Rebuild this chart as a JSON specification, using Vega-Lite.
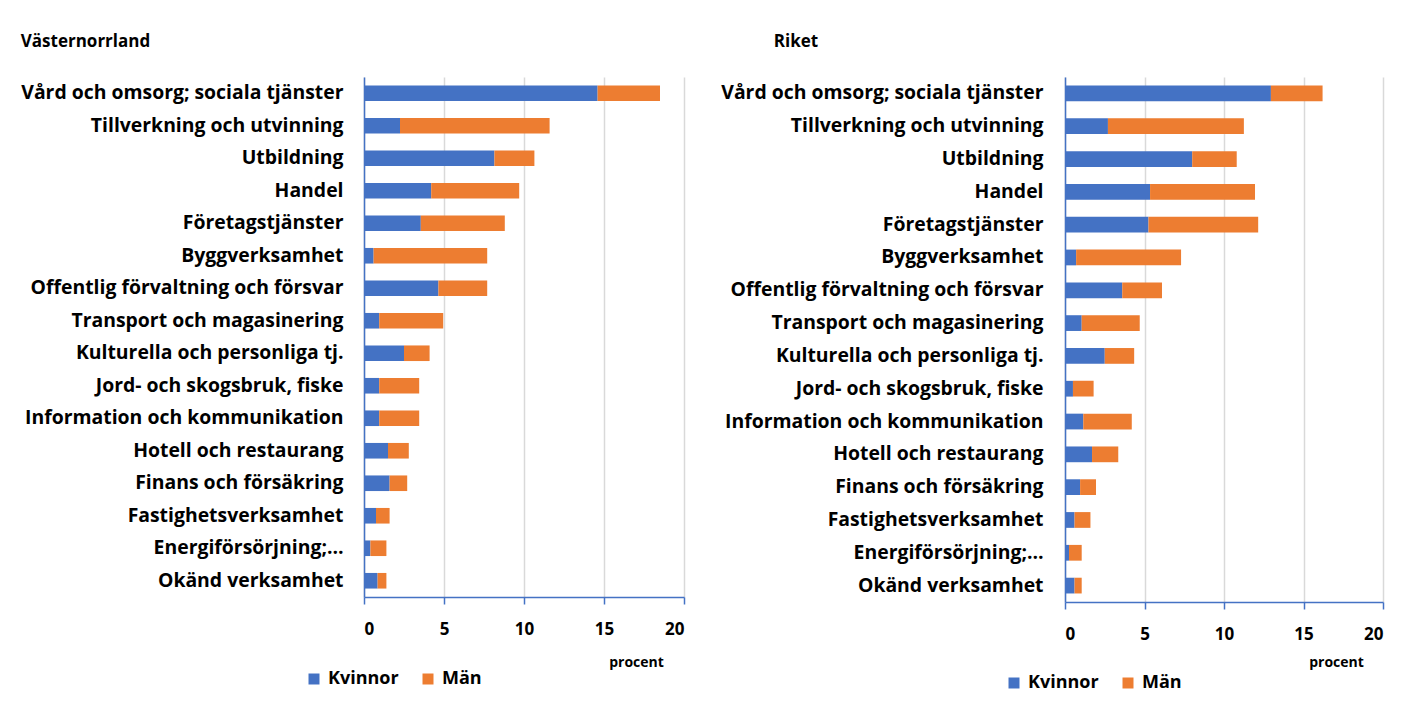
{
  "$schema": "https://vega.github.io/schema/vega-lite/v6.json",
  "background": "white",
  "padding": {"left": 20, "top": 33, "right": 10, "bottom": 0},
  "spacing": 35,
  "config": {
    "font": "Open Sans",
    "view": {"stroke": null},
    "legend": {"padding": 0}
  },
  "datasets": {
    "d": [
      {"region": "Västernorrland", "bransch": "Vård och omsorg; sociala tjänster", "kon": "Kvinnor", "procent": 14.6},
      {"region": "Västernorrland", "bransch": "Vård och omsorg; sociala tjänster", "kon": "Män", "procent": 3.9},
      {"region": "Västernorrland", "bransch": "Tillverkning och utvinning", "kon": "Kvinnor", "procent": 2.25},
      {"region": "Västernorrland", "bransch": "Tillverkning och utvinning", "kon": "Män", "procent": 9.35},
      {"region": "Västernorrland", "bransch": "Utbildning ", "kon": "Kvinnor", "procent": 8.15},
      {"region": "Västernorrland", "bransch": "Utbildning ", "kon": "Män", "procent": 2.5},
      {"region": "Västernorrland", "bransch": "Handel", "kon": "Kvinnor", "procent": 4.2},
      {"region": "Västernorrland", "bransch": "Handel", "kon": "Män", "procent": 5.5},
      {"region": "Västernorrland", "bransch": "Företagstjänster", "kon": "Kvinnor", "procent": 3.55},
      {"region": "Västernorrland", "bransch": "Företagstjänster", "kon": "Män", "procent": 5.25},
      {"region": "Västernorrland", "bransch": "Byggverksamhet", "kon": "Kvinnor", "procent": 0.6},
      {"region": "Västernorrland", "bransch": "Byggverksamhet", "kon": "Män", "procent": 7.1},
      {"region": "Västernorrland", "bransch": "Offentlig förvaltning och försvar", "kon": "Kvinnor", "procent": 4.65},
      {"region": "Västernorrland", "bransch": "Offentlig förvaltning och försvar", "kon": "Män", "procent": 3.05},
      {"region": "Västernorrland", "bransch": "Transport och magasinering", "kon": "Kvinnor", "procent": 0.95},
      {"region": "Västernorrland", "bransch": "Transport och magasinering", "kon": "Män", "procent": 4.0},
      {"region": "Västernorrland", "bransch": "Kulturella och personliga tj.", "kon": "Kvinnor", "procent": 2.5},
      {"region": "Västernorrland", "bransch": "Kulturella och personliga tj.", "kon": "Män", "procent": 1.6},
      {"region": "Västernorrland", "bransch": "Jord- och skogsbruk, fiske", "kon": "Kvinnor", "procent": 0.95},
      {"region": "Västernorrland", "bransch": "Jord- och skogsbruk, fiske", "kon": "Män", "procent": 2.5},
      {"region": "Västernorrland", "bransch": "Information och kommunikation", "kon": "Kvinnor", "procent": 0.95},
      {"region": "Västernorrland", "bransch": "Information och kommunikation", "kon": "Män", "procent": 2.5},
      {"region": "Västernorrland", "bransch": "Hotell och restaurang", "kon": "Kvinnor", "procent": 1.5},
      {"region": "Västernorrland", "bransch": "Hotell och restaurang", "kon": "Män", "procent": 1.3},
      {"region": "Västernorrland", "bransch": "Finans och försäkring", "kon": "Kvinnor", "procent": 1.6},
      {"region": "Västernorrland", "bransch": "Finans och försäkring", "kon": "Män", "procent": 1.1},
      {"region": "Västernorrland", "bransch": "Fastighetsverksamhet", "kon": "Kvinnor", "procent": 0.75},
      {"region": "Västernorrland", "bransch": "Fastighetsverksamhet", "kon": "Män", "procent": 0.85},
      {"region": "Västernorrland", "bransch": "Energiförsörjning;…", "kon": "Kvinnor", "procent": 0.4},
      {"region": "Västernorrland", "bransch": "Energiförsörjning;…", "kon": "Män", "procent": 1.0},
      {"region": "Västernorrland", "bransch": "Okänd verksamhet", "kon": "Kvinnor", "procent": 0.85},
      {"region": "Västernorrland", "bransch": "Okänd verksamhet", "kon": "Män", "procent": 0.55},
      {"region": "Riket", "bransch": "Vård och omsorg; sociala tjänster", "kon": "Kvinnor", "procent": 12.95},
      {"region": "Riket", "bransch": "Vård och omsorg; sociala tjänster", "kon": "Män", "procent": 3.25},
      {"region": "Riket", "bransch": "Tillverkning och utvinning", "kon": "Kvinnor", "procent": 2.7},
      {"region": "Riket", "bransch": "Tillverkning och utvinning", "kon": "Män", "procent": 8.55},
      {"region": "Riket", "bransch": "Utbildning ", "kon": "Kvinnor", "procent": 8.0},
      {"region": "Riket", "bransch": "Utbildning ", "kon": "Män", "procent": 2.8},
      {"region": "Riket", "bransch": "Handel", "kon": "Kvinnor", "procent": 5.35},
      {"region": "Riket", "bransch": "Handel", "kon": "Män", "procent": 6.6},
      {"region": "Riket", "bransch": "Företagstjänster", "kon": "Kvinnor", "procent": 5.25},
      {"region": "Riket", "bransch": "Företagstjänster", "kon": "Män", "procent": 6.9},
      {"region": "Riket", "bransch": "Byggverksamhet", "kon": "Kvinnor", "procent": 0.7},
      {"region": "Riket", "bransch": "Byggverksamhet", "kon": "Män", "procent": 6.6},
      {"region": "Riket", "bransch": "Offentlig förvaltning och försvar", "kon": "Kvinnor", "procent": 3.6},
      {"region": "Riket", "bransch": "Offentlig förvaltning och försvar", "kon": "Män", "procent": 2.5},
      {"region": "Riket", "bransch": "Transport och magasinering", "kon": "Kvinnor", "procent": 1.05},
      {"region": "Riket", "bransch": "Transport och magasinering", "kon": "Män", "procent": 3.65},
      {"region": "Riket", "bransch": "Kulturella och personliga tj.", "kon": "Kvinnor", "procent": 2.5},
      {"region": "Riket", "bransch": "Kulturella och personliga tj.", "kon": "Män", "procent": 1.85},
      {"region": "Riket", "bransch": "Jord- och skogsbruk, fiske", "kon": "Kvinnor", "procent": 0.5},
      {"region": "Riket", "bransch": "Jord- och skogsbruk, fiske", "kon": "Män", "procent": 1.3},
      {"region": "Riket", "bransch": "Information och kommunikation", "kon": "Kvinnor", "procent": 1.15},
      {"region": "Riket", "bransch": "Information och kommunikation", "kon": "Män", "procent": 3.05},
      {"region": "Riket", "bransch": "Hotell och restaurang", "kon": "Kvinnor", "procent": 1.7},
      {"region": "Riket", "bransch": "Hotell och restaurang", "kon": "Män", "procent": 1.65},
      {"region": "Riket", "bransch": "Finans och försäkring", "kon": "Kvinnor", "procent": 0.95},
      {"region": "Riket", "bransch": "Finans och försäkring", "kon": "Män", "procent": 1.0},
      {"region": "Riket", "bransch": "Fastighetsverksamhet", "kon": "Kvinnor", "procent": 0.6},
      {"region": "Riket", "bransch": "Fastighetsverksamhet", "kon": "Män", "procent": 1.0},
      {"region": "Riket", "bransch": "Energiförsörjning;…", "kon": "Kvinnor", "procent": 0.25},
      {"region": "Riket", "bransch": "Energiförsörjning;…", "kon": "Män", "procent": 0.8},
      {"region": "Riket", "bransch": "Okänd verksamhet", "kon": "Kvinnor", "procent": 0.6},
      {"region": "Riket", "bransch": "Okänd verksamhet", "kon": "Män", "procent": 0.45}
    ]
  },
  "resolve": {"scale": {"color": "independent"}},
  "hconcat": [
    {
      "width": 320,
      "height": 520,
      "title": {"text": "Västernorrland", "anchor": "start", "frame": "bounds", "dx": 0, "fontSize": 17, "fontWeight": "bold", "font": "Open Sans", "color": "#000000", "baseline": "middle", "offset": 18},
      "data": {"name": "d"},
      "transform": [{"filter": "datum.region === 'Västernorrland'"}],
      "mark": {"type": "bar"},
      "encoding": {
        "y": {
          "field": "bransch", "type": "nominal",
          "sort": ["Vård och omsorg; sociala tjänster", "Tillverkning och utvinning", "Utbildning ", "Handel", "Företagstjänster", "Byggverksamhet", "Offentlig förvaltning och försvar", "Transport och magasinering", "Kulturella och personliga tj.", "Jord- och skogsbruk, fiske", "Information och kommunikation", "Hotell och restaurang", "Finans och försäkring", "Fastighetsverksamhet", "Energiförsörjning;…", "Okänd verksamhet"],
          "scale": {"paddingInner": 0.52, "paddingOuter": 0.26},
          "axis": {"title": null, "labelFontSize": 19.4, "labelFontWeight": "bold", "labelColor": "#000000", "labelPadding": 21, "ticks": false, "domainColor": "#4472C4", "domainWidth": 1.5, "grid": false, "labelLimit": 400}
        },
        "x": {
          "field": "procent", "type": "quantitative", "stack": "zero",
          "scale": {"domain": [0, 20]},
          "axis": {"values": [0, 5, 10, 15, 20], "title": "procent", "titleFontSize": 14, "titleFontWeight": "bold", "titleColor": "#000000", "titleX": 272, "titleY": 65, "titleAlign": "center", "titleBaseline": "middle", "labelFontSize": 17, "labelFontWeight": "bold", "labelColor": "#000000", "labelPadding": 17, "tickSize": 7, "tickColor": "#4472C4", "tickWidth": 1.5, "domainColor": "#4472C4", "domainWidth": 1.5, "gridColor": "#D9D9D9", "gridWidth": 1.5}
        },
        "color": {
          "field": "kon", "type": "nominal",
          "scale": {"domain": ["Kvinnor", "Män"], "range": ["#4472C4", "#ED7D31"]},
          "legend": {"title": null, "orient": "none", "legendX": -59, "legendY": 593, "direction": "horizontal", "columns": 2, "columnPadding": 20, "symbolType": "square", "symbolSize": 121, "symbolStrokeWidth": 0, "labelFontSize": 18, "labelFontWeight": "bold", "labelColor": "#000000", "labelOffset": 5}
        }
      }
    },
    {
      "width": 318,
      "height": 525,
      "title": {"text": "Riket", "anchor": "start", "frame": "bounds", "dx": 53, "fontSize": 17, "fontWeight": "bold", "font": "Open Sans", "color": "#000000", "baseline": "middle", "offset": 18},
      "data": {"name": "d"},
      "transform": [{"filter": "datum.region === 'Riket'"}],
      "mark": {"type": "bar"},
      "encoding": {
        "y": {
          "field": "bransch", "type": "nominal",
          "sort": ["Vård och omsorg; sociala tjänster", "Tillverkning och utvinning", "Utbildning ", "Handel", "Företagstjänster", "Byggverksamhet", "Offentlig förvaltning och försvar", "Transport och magasinering", "Kulturella och personliga tj.", "Jord- och skogsbruk, fiske", "Information och kommunikation", "Hotell och restaurang", "Finans och försäkring", "Fastighetsverksamhet", "Energiförsörjning;…", "Okänd verksamhet"],
          "scale": {"paddingInner": 0.52, "paddingOuter": 0.26},
          "axis": {"title": null, "labelFontSize": 19.4, "labelFontWeight": "bold", "labelColor": "#000000", "labelPadding": 22, "ticks": false, "domainColor": "#4472C4", "domainWidth": 1.5, "grid": false, "labelLimit": 400}
        },
        "x": {
          "field": "procent", "type": "quantitative", "stack": "zero",
          "scale": {"domain": [0, 20]},
          "axis": {"values": [0, 5, 10, 15, 20], "title": "procent", "titleFontSize": 14, "titleFontWeight": "bold", "titleColor": "#000000", "titleX": 271, "titleY": 60, "titleAlign": "center", "titleBaseline": "middle", "labelFontSize": 17, "labelFontWeight": "bold", "labelColor": "#000000", "labelPadding": 17, "tickSize": 7, "tickColor": "#4472C4", "tickWidth": 1.5, "domainColor": "#4472C4", "domainWidth": 1.5, "gridColor": "#D9D9D9", "gridWidth": 1.5}
        },
        "color": {
          "field": "kon", "type": "nominal",
          "scale": {"domain": ["Kvinnor", "Män"], "range": ["#4472C4", "#ED7D31"]},
          "legend": {"title": null, "orient": "none", "legendX": -60, "legendY": 597, "direction": "horizontal", "columns": 2, "columnPadding": 20, "symbolType": "square", "symbolSize": 121, "symbolStrokeWidth": 0, "labelFontSize": 18, "labelFontWeight": "bold", "labelColor": "#000000", "labelOffset": 5}
        }
      }
    }
  ]
}
